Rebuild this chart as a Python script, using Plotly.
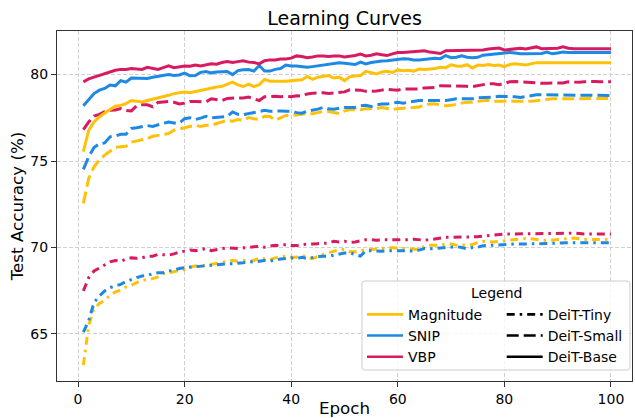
import plotly.graph_objects as go

epochs = list(range(1, 101))

mag_tiny = [63.2, 65.5, 66.46, 66.76, 66.95, 67.24, 67.43, 67.53, 67.72, 67.82,
            67.97, 68.1, 68.15, 68.2, 68.3, 68.49, 68.54, 68.6, 68.64, 68.73,
            68.86, 68.93, 68.93, 68.98, 69.02, 69.06, 69.12, 69.21, 69.25, 69.21,
            69.25, 69.21, 69.25, 69.4, 69.34, 69.3, 69.4, 69.46, 69.5, 69.44,
            69.44, 69.56, 69.4, 69.36, 69.5, 69.6, 69.69, 69.79, 69.88, 69.88,
            69.75, 69.75, 69.82, 69.88, 69.88, 69.92, 69.94, 69.98, 69.98, 69.98,
            69.94, 69.94, 69.9, 69.88, 70.07, 70.13, 70.13, 70.13, 70.2, 70.2,
            70.13, 70.13, 70.15, 70.17, 70.28, 70.36, 70.34, 70.32, 70.36, 70.4,
            70.44, 70.44, 70.48, 70.52, 70.5, 70.44, 70.42, 70.4, 70.44, 70.48,
            70.5, 70.52, 70.55, 70.5, 70.46, 70.46, 70.46, 70.46, 70.46, 70.46]

snip_tiny = [65.1, 65.77, 66.82, 67.2, 67.49, 67.68, 67.78, 67.87, 68.03, 68.16,
             68.26, 68.35, 68.38, 68.49, 68.54, 68.54, 68.64, 68.68, 68.79, 68.83,
             68.86, 68.88, 68.9, 68.93, 68.98, 69.02, 69.02, 69.06, 69.06, 69.08,
             69.12, 69.18, 69.16, 69.21, 69.25, 69.21, 69.29, 69.33, 69.36, 69.4,
             69.36, 69.44, 69.36, 69.44, 69.48, 69.5, 69.48, 69.56, 69.63, 69.68,
             69.69, 69.6, 69.5, 69.82, 69.8, 69.82, 69.78, 69.82, 69.82, 69.82,
             69.8, 69.78, 69.8, 69.85, 69.94, 69.92, 69.94, 69.96, 70.0, 70.02,
             70.05, 70.0, 69.92, 70.0, 70.02, 70.1, 70.12, 70.16, 70.16, 70.16,
             70.18, 70.2, 70.2, 70.2, 70.2, 70.2, 70.2, 70.2, 70.24, 70.26,
             70.28, 70.28, 70.28, 70.28, 70.28, 70.28, 70.28, 70.28, 70.28, 70.28]

vbp_tiny = [67.49, 68.26, 68.64, 68.83, 68.99, 69.17, 69.25, 69.2, 69.33, 69.4,
            69.38, 69.4, 69.5, 69.5, 69.6, 69.6, 69.56, 69.63, 69.74, 69.79,
            69.86, 69.82, 69.88, 69.94, 69.82, 69.9, 69.94, 69.98, 69.94, 69.94,
            69.98, 70.02, 70.05, 70.07, 70.02, 70.07, 70.13, 70.11, 70.17, 70.11,
            70.11, 70.17, 70.17, 70.2, 70.22, 70.26, 70.26, 70.36, 70.32, 70.36,
            70.3, 70.32, 70.4, 70.45, 70.45, 70.42, 70.45, 70.45, 70.42, 70.45,
            70.45, 70.45, 70.48, 70.45, 70.42, 70.45, 70.5, 70.55, 70.59, 70.59,
            70.59, 70.59, 70.59, 70.6, 70.62, 70.65, 70.68, 70.75, 70.75, 70.78,
            70.78, 70.78, 70.78, 70.78, 70.78, 70.78, 70.78, 70.8, 70.8, 70.8,
            70.8, 70.82, 70.84, 70.8, 70.78, 70.78, 70.78, 70.78, 70.78, 70.78]

mag_small = [72.55, 74.0, 74.67, 75.06, 75.34, 75.54, 75.79, 75.82, 75.85, 76.09,
             76.15, 76.21, 76.3, 76.43, 76.48, 76.52, 76.59, 76.78, 76.85, 76.93,
             77.0, 77.07, 77.0, 77.07, 77.07, 77.16, 77.25, 77.36, 77.3, 77.4,
             77.36, 77.51, 77.45, 77.4, 77.59, 77.58, 77.36, 77.5, 77.64, 77.64,
             77.68, 77.72, 77.74, 77.74, 77.8, 77.87, 77.87, 77.82, 77.75, 77.9,
             77.97, 77.97, 77.97, 78.03, 78.03, 78.03, 78.1, 78.05, 77.98, 78.03,
             78.05, 78.1, 78.1, 78.12, 78.25, 78.3, 78.3, 78.25, 78.2, 78.22,
             78.3, 78.35, 78.4, 78.4, 78.45, 78.5, 78.52, 78.45, 78.44, 78.46,
             78.46, 78.46, 78.48, 78.46, 78.46, 78.5, 78.55, 78.6, 78.6, 78.6,
             78.6, 78.6, 78.6, 78.6, 78.6, 78.62, 78.62, 78.62, 78.62, 78.62]

snip_small = [74.52, 75.25, 75.78, 76.0, 76.05, 76.4, 76.45, 76.55, 76.55, 76.88,
              76.92, 76.97, 77.05, 77.0, 77.11, 77.18, 77.26, 77.2, 77.2, 77.45,
              77.5, 77.4, 77.48, 77.59, 77.5, 77.52, 77.55, 77.58, 77.84, 77.7,
              77.68, 77.74, 77.78, 77.84, 77.93, 77.88, 77.9, 77.9, 77.88, 77.88,
              77.8, 77.77, 77.88, 77.92, 78.0, 78.1, 78.02, 78.0, 78.05, 78.1,
              78.1, 78.1, 78.2, 78.22, 78.15, 78.25, 78.3, 78.3, 78.35, 78.4,
              78.35, 78.4, 78.45, 78.5, 78.5, 78.5, 78.5, 78.5, 78.5, 78.55,
              78.6, 78.6, 78.6, 78.6, 78.65, 78.66, 78.66, 78.7, 78.74, 78.74,
              78.74, 78.72, 78.68, 78.72, 78.8, 78.83, 78.83, 78.83, 78.83, 78.8,
              78.8, 78.8, 78.8, 78.79, 78.8, 78.8, 78.79, 78.79, 78.79, 78.79]

vbp_small = [76.82, 77.26, 77.6, 77.7, 77.85, 77.93, 77.95, 78.03, 77.93, 77.9,
             78.2, 78.25, 78.25, 78.14, 78.39, 78.42, 78.45, 78.4, 78.3, 78.35,
             78.45, 78.45, 78.45, 78.42, 78.6, 78.55, 78.5, 78.62, 78.65, 78.65,
             78.65, 78.7, 78.6, 78.5, 78.72, 78.75, 78.75, 78.72, 78.75, 78.72,
             78.78, 78.75, 78.88, 78.92, 78.95, 78.95, 78.9, 78.92, 78.95, 79.0,
             79.12, 79.13, 79.1, 79.03, 79.03, 79.05, 79.1, 79.15, 79.12, 79.1,
             79.17, 79.17, 79.15, 79.17, 79.23, 79.23, 79.25, 79.36, 79.36, 79.35,
             79.32, 79.32, 79.32, 79.3, 79.35, 79.4, 79.47, 79.47, 79.42, 79.5,
             79.58, 79.6, 79.58, 79.55, 79.5, 79.5, 79.5, 79.5, 79.5, 79.5,
             79.52, 79.58, 79.55, 79.55, 79.58, 79.6, 79.6, 79.58, 79.58, 79.58]

mag_base = [75.55, 76.78, 77.26, 77.55, 77.78, 77.97, 78.17, 78.22, 78.32, 78.5,
            78.45, 78.42, 78.5, 78.57, 78.66, 78.72, 78.8, 78.9, 78.95, 78.99,
            78.95, 79.02, 79.1, 79.15, 79.22, 79.28, 79.32, 79.42, 79.56, 79.4,
            79.31, 79.45, 79.3, 79.42, 79.72, 79.62, 79.6, 79.62, 79.62, 79.65,
            79.7, 79.7, 79.89, 79.72, 79.85, 79.9, 79.94, 79.8, 79.85, 79.65,
            79.88, 79.92, 79.95, 80.19, 80.1, 80.04, 80.15, 80.19, 80.12, 80.27,
            80.22, 80.25, 80.2, 80.32, 80.3, 80.32, 80.35, 80.42, 80.4, 80.57,
            80.5, 80.48, 80.57, 80.38, 80.55, 80.52, 80.58, 80.52, 80.55, 80.46,
            80.58, 80.62, 80.6, 80.55, 80.62, 80.69, 80.69, 80.69, 80.69, 80.69,
            80.69, 80.69, 80.69, 80.69, 80.69, 80.69, 80.69, 80.69, 80.69, 80.69]

snip_base = [78.2, 78.55, 78.9, 79.1, 79.2, 79.4, 79.35, 79.65, 79.56, 79.8,
             79.8, 79.78, 79.78, 79.85, 79.9, 79.95, 80.0, 79.95, 79.98, 80.08,
             79.93, 79.95, 80.13, 80.18, 80.1, 80.15, 80.18, 80.18, 80.0, 80.23,
             80.28, 80.29, 80.2, 80.52, 80.2, 80.2, 80.3, 80.35, 80.55, 80.5,
             80.5, 80.45, 80.42, 80.46, 80.5, 80.55, 80.6, 80.65, 80.68, 80.65,
             80.6, 80.58, 80.72, 80.62, 80.7, 80.75, 80.78, 80.8, 80.85, 80.9,
             80.92, 80.9, 80.85, 80.85, 80.88, 80.9, 80.95, 80.92, 81.1, 80.98,
             81.0, 81.08, 81.0, 80.98, 81.0, 81.12, 81.15, 81.18, 81.2, 81.22,
             81.28, 81.25, 81.2, 81.2, 81.22, 81.22, 81.22, 81.3, 81.2, 81.25,
             81.3, 81.28, 81.28, 81.28, 81.28, 81.28, 81.28, 81.28, 81.28, 81.28]

vbp_base = [79.58, 79.75, 79.85, 79.95, 80.05, 80.15, 80.25, 80.3, 80.3, 80.35,
            80.33, 80.3, 80.42, 80.35, 80.3, 80.4, 80.5, 80.4, 80.45, 80.5,
            80.48, 80.55, 80.5, 80.58, 80.62, 80.6, 80.7, 80.75, 80.7, 80.75,
            80.8, 80.72, 80.7, 80.62, 80.8, 80.85, 80.85, 80.9, 80.9, 80.95,
            81.08, 81.05, 80.98, 81.02, 81.08, 81.08, 81.05, 81.08, 81.08, 81.02,
            81.05, 81.1, 81.18, 81.08, 81.12, 81.2, 81.15, 81.1, 81.2, 81.28,
            81.28, 81.3, 81.32, 81.35, 81.38, 81.3, 81.25, 81.22, 81.38, 81.38,
            81.38, 81.38, 81.38, 81.4, 81.38, 81.42, 81.48, 81.5, 81.53, 81.42,
            81.45, 81.5, 81.52, 81.48, 81.55, 81.6, 81.5, 81.5, 81.5, 81.52,
            81.6, 81.52, 81.5, 81.5, 81.5, 81.5, 81.5, 81.5, 81.5, 81.5]

methods = ["Magnitude", "SNIP", "VBP"]
method_colors = ["#FFC107", "#1E88E5", "#D81B60"]
models = ["DeiT-Tiny", "DeiT-Small", "DeiT-Base"]
model_dashes = ["8px,5px,2.5px,5px", "12px,5px", "solid"]
x_ticks = [0, 20, 40, 60, 80, 100]
y_ticks = [65, 70, 75, 80]

series = {
    ("DeiT-Tiny", "Magnitude"): mag_tiny,
    ("DeiT-Tiny", "SNIP"): snip_tiny,
    ("DeiT-Tiny", "VBP"): vbp_tiny,
    ("DeiT-Small", "Magnitude"): mag_small,
    ("DeiT-Small", "SNIP"): snip_small,
    ("DeiT-Small", "VBP"): vbp_small,
    ("DeiT-Base", "Magnitude"): mag_base,
    ("DeiT-Base", "SNIP"): snip_base,
    ("DeiT-Base", "VBP"): vbp_base,
}

FONT = "DejaVu Sans"
fig = go.Figure()

for model, dash in zip(models, model_dashes):
    for method, color in zip(methods, method_colors):
        fig.add_trace(go.Scatter(
            x=epochs, y=series[(model, method)], mode="lines",
            line=dict(color=color, width=3, dash=dash),
            name=f"{method} {model}", showlegend=False, hoverinfo="skip"))

# legend-only entries: colours (methods)
for method, color in zip(methods, method_colors):
    fig.add_trace(go.Scatter(x=[None], y=[None], mode="lines",
                             line=dict(color=color, width=2.6),
                             name=method, legend="legend"))
# legend-only entries: line styles (models)
for model, dash in zip(models, model_dashes):
    fig.add_trace(go.Scatter(x=[None], y=[None], mode="lines",
                             line=dict(color="black", width=2.6, dash=dash),
                             name=model, legend="legend2"))

axis_common = dict(
    showline=True, mirror=True, linecolor="#333333", linewidth=1.2,
    ticks="outside", ticklen=5, tickwidth=1.1, tickcolor="#333333",
    showgrid=True, gridcolor="#d0d0d0", gridwidth=1, griddash="4px,2px",
    zeroline=False, automargin=False,
    tickfont=dict(family=FONT, size=14, color="black"),
)

fig.update_xaxes(range=[-3.95, 103.95], tickvals=x_ticks, **axis_common,
                 title=dict(text="Epoch", font=dict(family=FONT, size=16.7, color="black"), standoff=4))
fig.update_yaxes(range=[62.28, 82.52], tickvals=y_ticks, **axis_common,
                 title=dict(text="Test Accuracy (%)", font=dict(family=FONT, size=16.7, color="black"), standoff=2))

# legend frame (rounded rectangle in paper coordinates)
x0, x1, y0, y1 = 0.5304, 0.9965, 0.0314, 0.2857
rx, ry = 0.005, 0.0083
path = (f"M {x0+rx},{y0} L {x1-rx},{y0} Q {x1},{y0} {x1},{y0+ry} "
        f"L {x1},{y1-ry} Q {x1},{y1} {x1-rx},{y1} L {x0+rx},{y1} "
        f"Q {x0},{y1} {x0},{y1-ry} L {x0},{y0+ry} Q {x0},{y0} {x0+rx},{y0} Z")
fig.add_shape(type="path", path=path, xref="paper", yref="paper",
              line=dict(color="#cccccc", width=1), fillcolor="rgba(255,255,255,0.8)",
              layer="above")
fig.add_annotation(text="Legend", x=0.7635, y=0.2514, xref="paper", yref="paper",
                   showarrow=False, xanchor="center", yanchor="middle",
                   font=dict(family=FONT, size=14, color="black"))

legend_common = dict(xanchor="left", yanchor="top", bgcolor="rgba(0,0,0,0)",
                     borderwidth=0, itemwidth=36, tracegroupgap=0,
                     font=dict(family=FONT, size=14, color="black"))

fig.update_layout(
    width=635, height=418,
    margin=dict(l=57, r=3, t=31, b=37, autoexpand=False),
    paper_bgcolor="white", plot_bgcolor="white",
    title=dict(text="Learning Curves", x=0.5426, xanchor="center",
               y=1 - 18 / 418, yanchor="middle",
               font=dict(family=FONT, size=19, color="black")),
    legend=dict(x=0.5304, y=0.235, **legend_common),
    legend2=dict(x=0.7734, y=0.235, **legend_common),
    showlegend=True,
)

fig.write_html("out.html", config={"displayModeBar": False},
               post_script="document.body.style.margin='0';document.body.style.overflow='hidden';")
